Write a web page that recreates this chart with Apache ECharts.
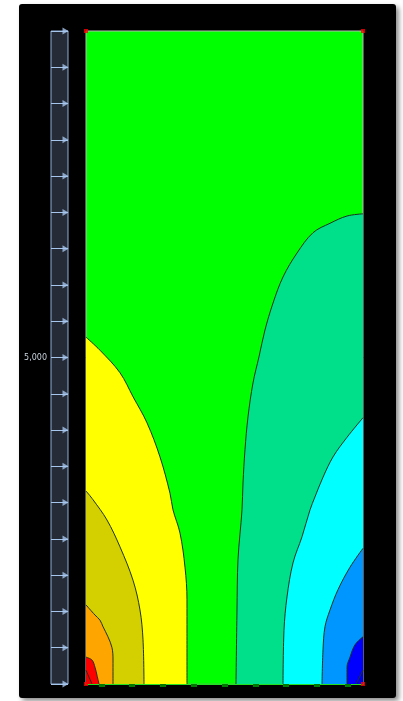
<!DOCTYPE html>
<html>
<head>
<meta charset="utf-8">
<script src="https://cdn.jsdelivr.net/npm/echarts@6/dist/echarts.min.js"></script>
<style>
  html, body { margin: 0; padding: 0; background: #ffffff; }
  #panel { position: absolute; left: 19px; top: 4px; width: 377px; height: 694px; background: #000; border-radius: 3px; box-shadow: 3px 3px 5px rgba(0,0,0,0.45); }
  #chart { position: absolute; left: 0; top: 0; width: 403px; height: 701px; }
</style>
</head>
<body>
<div id="panel"></div>
<div id="chart"></div>
<script>
// ---- data (x: 0..100 across the plot, y: axis units) ----
const xCategories = ['1', '2', '3', '4', '5', '6', '7', '8', '9'];
const yTicks = [500, 1000, 1500, 2000, 2500, 3000, 3500, 4000, 4500, 5000, 5500, 6000, 6500, 7000, 7500, 8000, 8500, 9000, 9500];
const yLabelShown = 5000;

// left-hand (positive) contour boundaries
const yellowEdge = [[0, 5280], [5.05, 5100], [12.27, 4790], [16.97, 4460], [22.02, 4100], [26.71, 3630], [30.32, 3130], [31.41, 2900], [33.94, 2580], [35.74, 2110], [36.46, 1660], [36.46, 1200], [36.46, 500]];
const oliveEdge = [[0, 3160], [2.53, 3040], [7.58, 2760], [12.27, 2390], [16.97, 1930], [19.49, 1520], [20.58, 1110], [20.94, 500]];
const orangeEdge = [[0, 1590], [3.25, 1450], [5.05, 1380], [6.14, 1290], [7.94, 1150], [9.39, 1000], [9.75, 830], [9.75, 500]];
const redEdge = [[0, 870], [2.17, 830], [3.25, 730], [3.97, 620], [4.69, 500]];
const redInnerEdge = [[0, 690], [2.17, 500]];

// right-hand (negative) contour boundaries
const tealEdge = [[54.15, 500], [54.51, 1520], [54.87, 2210], [56.32, 2900], [56.68, 3270], [57.40, 3730], [58.48, 4180], [60.29, 4650], [62.45, 5010], [64.62, 5380], [67.51, 5750], [71.12, 6110], [76.17, 6440], [81.95, 6720], [88.09, 6850], [94.22, 6950], [100, 6980]];
const cyanEdge = [[71.12, 500], [71.48, 1240], [72.56, 1700], [74.73, 2170], [77.98, 2530], [80.87, 2900], [82.67, 3080], [85.56, 3350], [89.17, 3630], [94.22, 3900], [100, 4170]];
const dodgerEdge = [[85.20, 500], [85.56, 970], [86.28, 1290], [88.09, 1520], [90.97, 1800], [95.31, 2110], [100, 2370]];
const blueEdge = [[94.22, 500], [94.22, 730], [95.31, 870], [97.11, 1040], [100, 1150]];
const blueInnerEdge = [[97.47, 500], [100, 690]];

const corners = [[0, 500], [100, 500], [0, 9500], [100, 9500]];

// ---- styles ----
const lineCol = '#1e321e';
function region(name, data, color) {
  return {
    name: name, type: 'line', xAxisIndex: 0, yAxisIndex: 0,
    data: data, symbol: 'none', smooth: 0.35,
    lineStyle: { color: lineCol, width: 1 },
    areaStyle: { color: color, opacity: 1, origin: 'start' },
    silent: true, z: 2
  };
}

const chart = echarts.init(document.getElementById('chart'), null, { renderer: 'canvas' });
chart.setOption({
  backgroundColor: 'transparent',
  animation: false,
  grid: [
    { left: 86, top: 31, width: 277, height: 653, show: true, backgroundColor: '#00ff00', borderColor: '#b8b8b8', borderWidth: 1, containLabel: false },
    { left: 51, top: 31, width: 17, height: 653, show: true, backgroundColor: '#252c37', borderColor: '#8eaed6', borderWidth: 1, containLabel: false }
  ],
  xAxis: [
    { type: 'value', gridIndex: 0, min: 0, max: 100, show: false },
    { type: 'category', gridIndex: 0, data: xCategories, position: 'bottom', boundaryGap: true,
      axisLine: { show: true, lineStyle: { color: '#22e022', width: 2 } },
      axisTick: { show: true, alignWithLabel: true, length: 3, lineStyle: { color: '#007a00', width: 6 } },
      axisLabel: { show: false }, splitLine: { show: false } },
    { type: 'value', gridIndex: 1, min: 0, max: 17, show: false }
  ],
  yAxis: [
    { type: 'value', gridIndex: 0, min: 500, max: 9500, show: false },
    { type: 'value', gridIndex: 1, min: 500, max: 9500, interval: 500, position: 'left',
      axisLine: { show: false }, axisTick: { show: false },
      splitLine: { show: true, lineStyle: { color: '#a6c6ee', width: 1 } },
      axisLabel: { show: true, margin: 4, color: '#c8d2de', fontSize: 8, fontFamily: 'DejaVu Sans',
        formatter: function (v) { return v === yLabelShown ? '5,000' : ''; } } }
  ],
  series: [
    region('yellow', yellowEdge, '#ffff00'),
    region('olive', oliveEdge, '#d4d000'),
    region('orange', orangeEdge, '#ffa500'),
    region('red', redEdge, '#ff0000'),
    region('redInner', redInnerEdge, '#f00000'),
    region('teal', tealEdge, '#00e08a'),
    region('cyan', cyanEdge, '#00ffff'),
    region('dodger', dodgerEdge, '#0096ff'),
    region('blue', blueEdge, '#0000ff'),
    region('blueInner', blueInnerEdge, '#0000e8'),
    { type: 'scatter', xAxisIndex: 0, yAxisIndex: 0, data: corners, symbol: 'rect', symbolSize: 4,
      itemStyle: { color: '#ff0000' }, clip: false, silent: true, z: 10 },
    { type: 'scatter', xAxisIndex: 2, yAxisIndex: 1, data: yTicks.map(function (v) { return [14.5, v]; }),
      symbol: 'triangle', symbolRotate: -90, symbolSize: [7, 6],
      itemStyle: { color: '#a6c6ee' }, clip: false, silent: true, z: 10 }
  ]
});
</script>
</body>
</html>
